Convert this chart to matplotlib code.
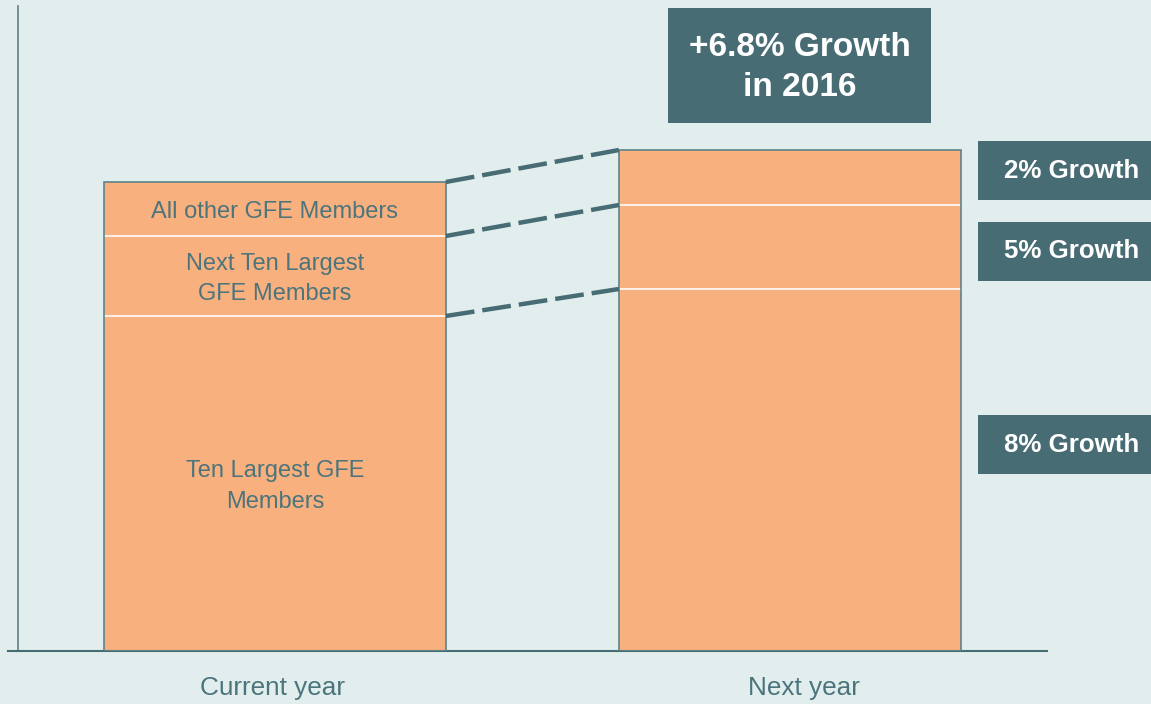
import matplotlib
matplotlib.use("Agg")
import matplotlib.pyplot as plt
from matplotlib.patches import Rectangle

# ---- data ----
categories = ["Current year", "Next year"]
segment_names = ["Ten Largest GFE\nMembers", "Next Ten Largest\nGFE Members", "All other GFE Members"]
current_values = [67.0, 16.0, 10.8]
next_values = [72.4, 16.8, 11.0]
growth_labels = ["8% Growth", "5% Growth", "2% Growth"]
headline = "+6.8% Growth\nin 2016"

BG = "#E2EEEE"
BAR = "#F9B07F"
EDGE = "#5F8389"
DARK = "#476C74"
TXT = "#4B747C"

plt.rcParams["font.family"] = ["Liberation Sans", "DejaVu Sans"]

W, H = 1151, 704
fig = plt.figure(figsize=(W / 100, H / 100), dpi=100, facecolor=BG)
ax = fig.add_axes([8 / W, (H - 651) / H, (1047 - 8) / W, 651 / H])
ax.set_facecolor(BG)
ax.set_xlim(-0.518, 1.499)
ax.set_ylim(0, 130.2)
for s in ["top", "right", "left"]:
    ax.spines[s].set_visible(False)
ax.spines["bottom"].set_color(DARK)
ax.spines["bottom"].set_linewidth(1.5)
ax.set_xticks([])
ax.set_yticks([])
ax.plot([-0.499, -0.499], [0, 129], color=EDGE, lw=1.2, clip_on=False)

bw = 0.664
xs = [0, 1]
stacks = [current_values, next_values]
tops_all = []
for x, vals in zip(xs, stacks):
    bottom = 0
    tops = []
    for v in vals:
        ax.bar(x, v, width=bw, bottom=bottom, color=BAR, edgecolor="none", zorder=2)
        bottom += v
        tops.append(bottom)
    for t in tops[:-1]:
        ax.plot([x - bw / 2, x + bw / 2], [t, t], color="white", lw=1.2, zorder=3)
    ax.bar(x, bottom, width=bw, fill=False, edgecolor=EDGE, lw=1.2, zorder=4)
    tops_all.append(tops)

# segment labels on current-year bar
bottom = 0
for v, name in zip(current_values, segment_names):
    yc = bottom + v / 2 - 0.6
    ax.text(0, yc, name, ha="center", va="center", fontsize=17, color=TXT,
            linespacing=1.5, zorder=5)
    bottom += v

# dashed connectors
for t0, t1 in zip(tops_all[0], tops_all[1]):
    ax.plot([0 + bw / 2, 1 - bw / 2], [t0, t1], color=DARK, lw=3.2,
            linestyle=(0, (6.5, 1.8)), solid_capstyle="butt", dash_capstyle="butt",
            zorder=5, clip_on=False)

# category labels
for x, c, off in zip(xs, categories, [-0.005, 0.027]):
    ax.text(x + off, -37 / 651, c, transform=ax.get_xaxis_transform(), ha="center",
            va="center", fontsize=18.8, color=TXT)


def box(x0, y0, x1, y1, text, fs, ls=1.15, dy=0.0):
    fig.patches.append(Rectangle((x0 / W, 1 - y1 / H), (x1 - x0) / W, (y1 - y0) / H,
                                 transform=fig.transFigure, facecolor=DARK,
                                 edgecolor="none", zorder=10))
    fig.text((x0 + x1) / 2 / W, 1 - ((y0 + y1) / 2 + dy) / H, text, ha="center", va="center",
             fontsize=fs, fontweight="bold", color="white", zorder=11, linespacing=ls)


box(668, 8, 931, 123, headline, 24, ls=1.35, dy=2)
growth_boxes = [(415, 474), (222, 281), (141, 200)]
for (y0, y1), g in zip(growth_boxes, growth_labels):
    box(978, y0, 1165, y1, g, 18.6)

fig.savefig("out.png", dpi=100, facecolor=BG)
